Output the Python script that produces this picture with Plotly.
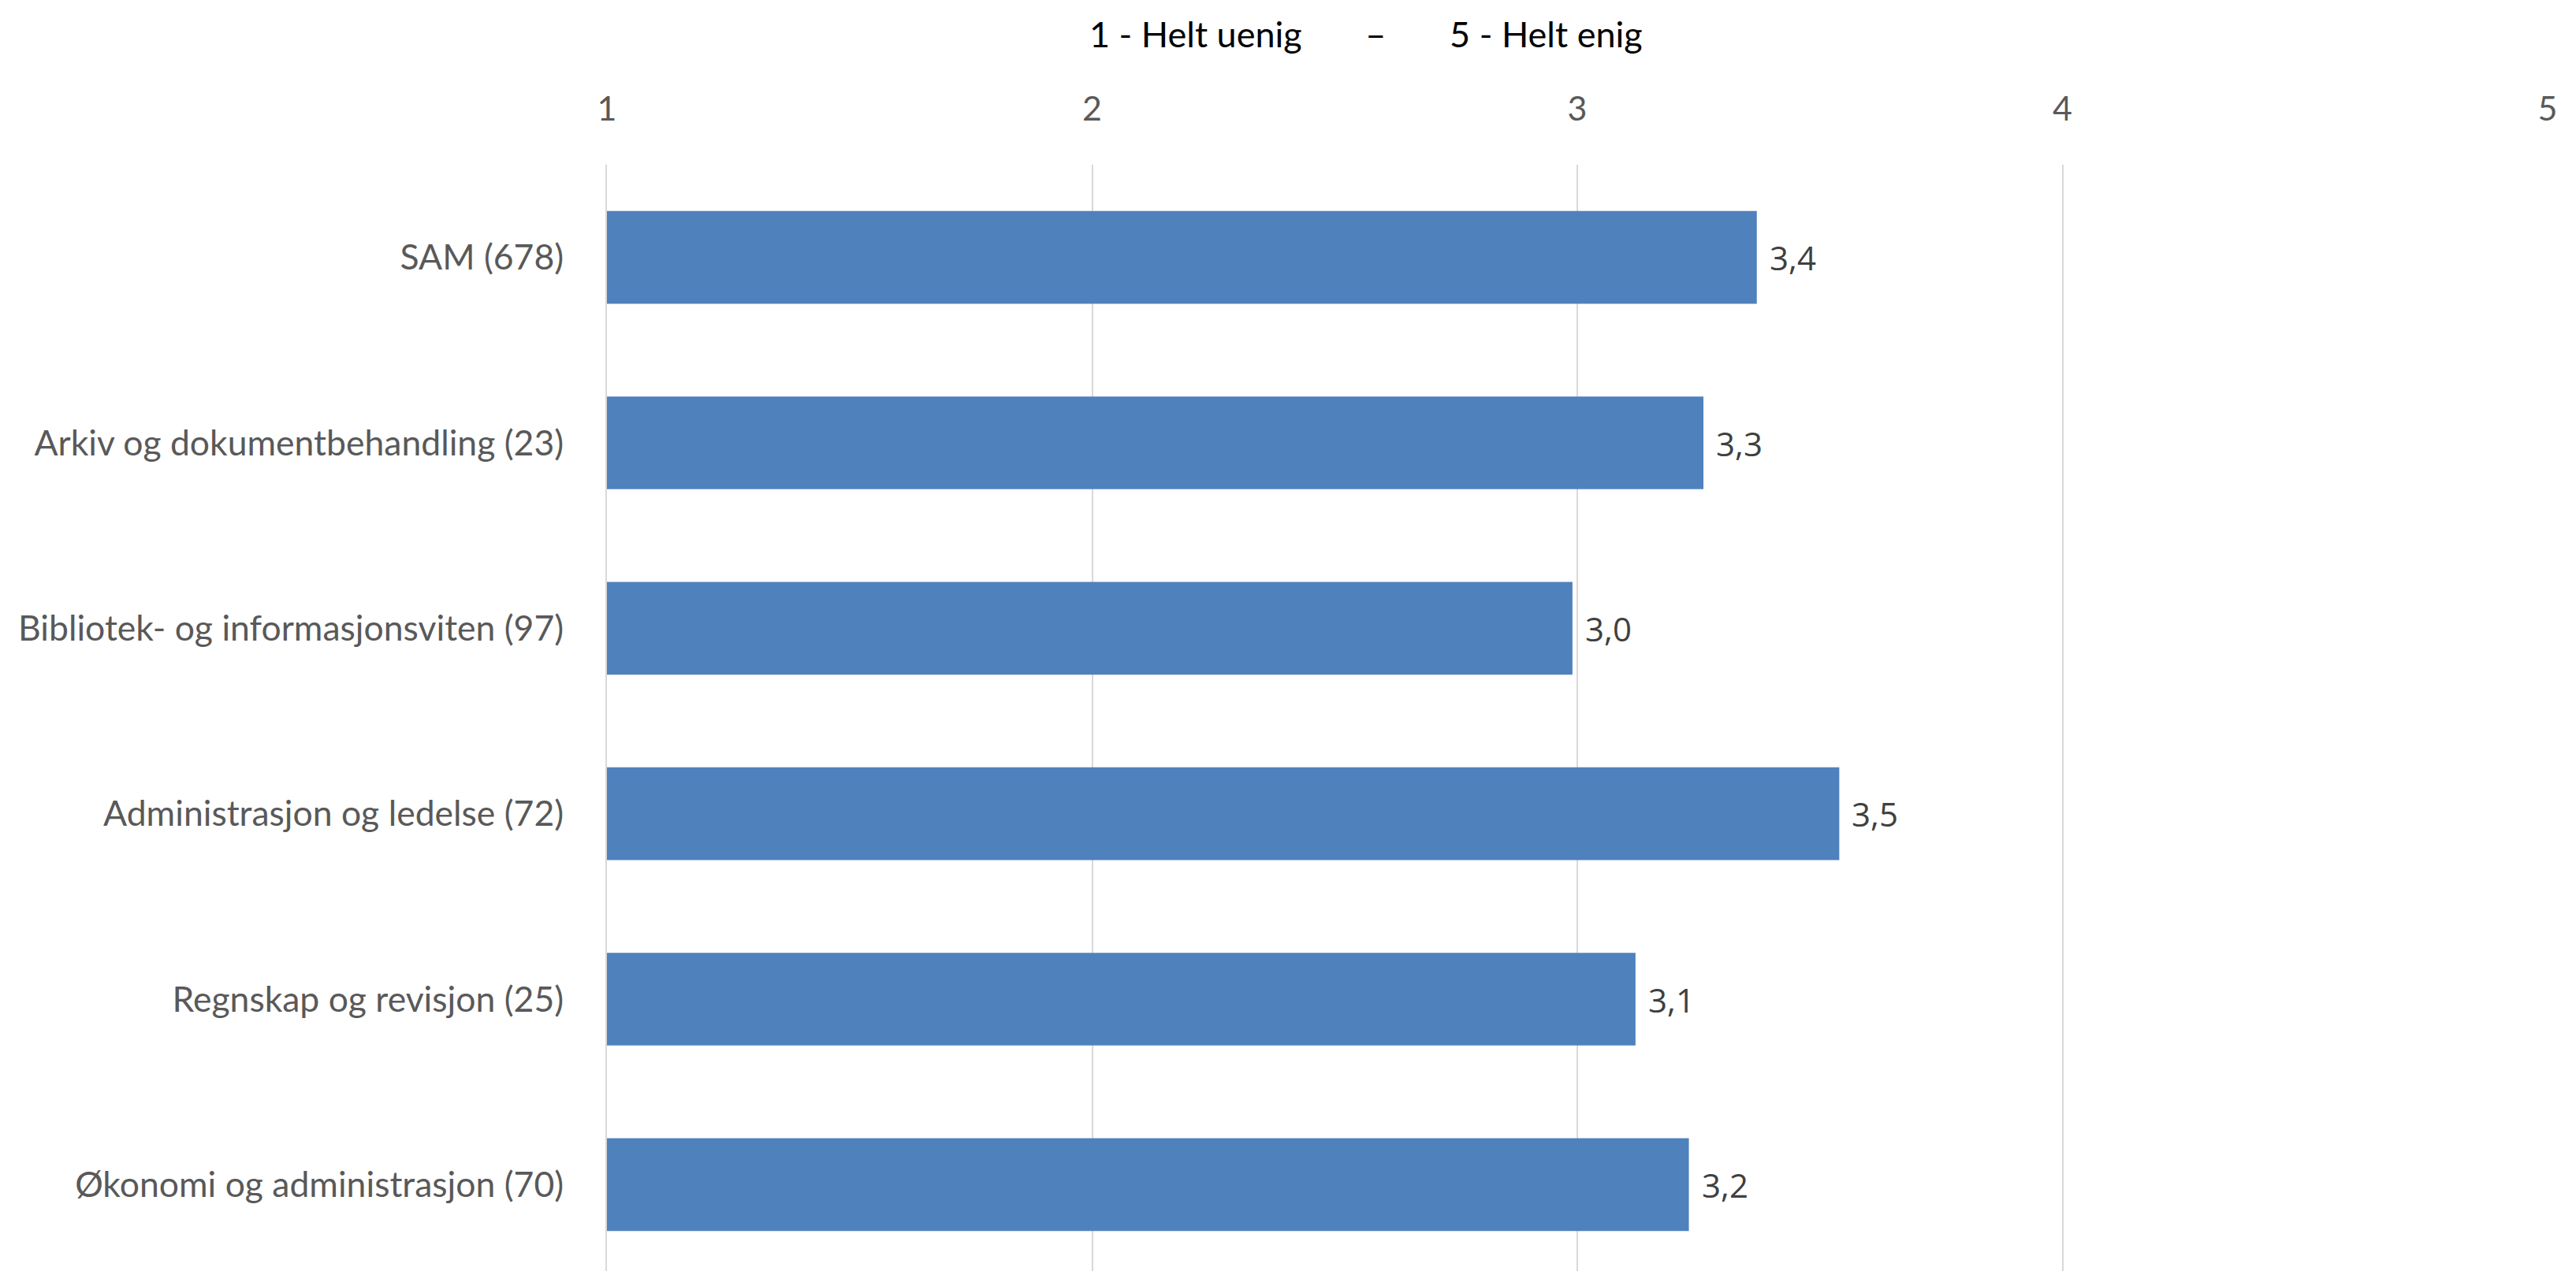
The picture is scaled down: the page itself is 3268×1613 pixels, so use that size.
import plotly.graph_objects as go

categories = [
    "SAM (678)",
    "Arkiv og dokumentbehandling (23)",
    "Bibliotek- og informasjonsviten (97)",
    "Administrasjon og ledelse (72)",
    "Regnskap og revisjon (25)",
    "Økonomi og administrasjon (70)",
]
values = [3.37, 3.26, 2.99, 3.54, 3.12, 3.23]
tick_vals = [1, 2, 3, 4, 5]
tick_text = ["1", "2", "3", "4", "5"]
title_left = "1 - Helt uenig"
title_right = "5 - Helt enig"

W, H = 3268, 1613
ML, MR, MT, MB = 762, 44, 201, 0
PW, PH = W - ML - MR, H - MT - MB

fig = go.Figure()
fig.add_trace(go.Bar(
    x=values,
    y=categories,
    orientation="h",
    marker=dict(color="#4F81BD", line=dict(width=0)),
    width=0.5,
    hoverinfo="skip",
))

for v, c in zip(values, categories):
    fig.add_annotation(
        x=v, y=c, xref="x", yref="y",
        text=f"{v:.1f}".replace(".", ","),
        showarrow=False, xanchor="left", yanchor="middle",
        xshift=14,
        font=dict(family="Open Sans", size=42, color="#404040"),
    )

nb = "\u00a0" * 7
fig.add_annotation(
    x=(1725 - ML) / PW, y=1 + (MT - 35) / PH, xref="paper", yref="paper",
    text=f"{title_left}{nb}–{nb}{title_right}",
    showarrow=False, xanchor="center", yanchor="middle",
    font=dict(family="Lato", size=45, color="#000000"),
)

fig.update_layout(
    width=W, height=H,
    margin=dict(l=ML, r=MR, t=MT, b=MB, autoexpand=False),
    paper_bgcolor="white",
    plot_bgcolor="white",
    showlegend=False,
    font=dict(family="Lato", color="#595959"),
)
fig.update_xaxes(
    range=[1, 5],
    side="top",
    tickvals=tick_vals,
    ticktext=tick_text,
    showgrid=True,
    gridcolor="#D9D9D9",
    gridwidth=2,
    zeroline=False,
    showline=False,
    ticks="outside",
    ticklen=38,
    tickcolor="rgba(0,0,0,0)",
    tickfont=dict(family="Lato", size=43, color="#595959"),
    automargin=False,
)
fig.update_yaxes(
    categoryorder="array",
    categoryarray=categories,
    autorange="reversed",
    showgrid=False,
    zeroline=False,
    showline=True,
    linecolor="#D9D9D9",
    linewidth=2,
    ticks="outside",
    ticklen=44,
    tickcolor="rgba(0,0,0,0)",
    tickfont=dict(family="Lato", size=44.5, color="#595959"),
    automargin=False,
)

fig.write_html("out.html")
